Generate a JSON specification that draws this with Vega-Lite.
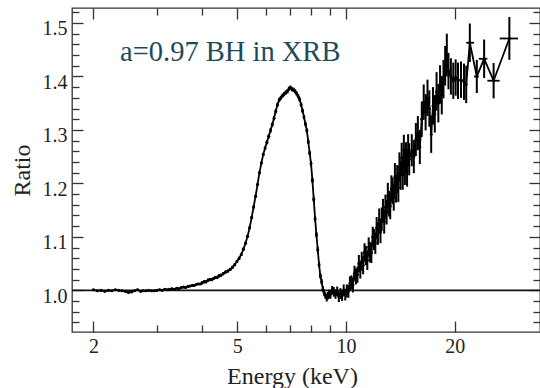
{
  "$schema": "https://vega.github.io/schema/vega-lite/v6.json",
  "width": 468,
  "height": 324,
  "autosize": {"type": "none"},
  "padding": {"left": 72, "right": 0, "top": 8, "bottom": 56},
  "background": "white",
  "config": {
    "view": {"stroke": "#333", "strokeWidth": 1.3},
    "axis": {
      "domain": false, "grid": false, "tickColor": "#333", "tickWidth": 1.3,
      "labelFont": "Liberation Serif", "labelFontSize": 20, "labelColor": "#222",
      "titleFont": "Liberation Serif", "titleFontSize": 24, "titleFontWeight": "normal", "titleColor": "#222",
      "labelFlush": false, "labelOverlap": false
    }
  },
  "datasets": {
    "d": [
      {"E":2.00,"R":1.001,"e":0.002},{"E":2.05,"R":0.999,"e":0.002},{"E":2.10,"R":1.000,"e":0.002},{"E":2.15,"R":0.998,"e":0.002},{"E":2.20,"R":1.000,"e":0.002},{"E":2.25,"R":0.999,"e":0.002},{"E":2.30,"R":1.001,"e":0.002},{"E":2.35,"R":1.000,"e":0.002},{"E":2.40,"R":0.999,"e":0.002},{"E":2.45,"R":0.998,"e":0.002},
      {"E":2.50,"R":0.996,"e":0.002},{"E":2.55,"R":0.997,"e":0.002},{"E":2.60,"R":0.999,"e":0.002},{"E":2.65,"R":1.001,"e":0.002},{"E":2.70,"R":0.998,"e":0.002},{"E":2.75,"R":0.999,"e":0.002},{"E":2.80,"R":0.999,"e":0.002},{"E":2.85,"R":1.000,"e":0.002},{"E":2.90,"R":0.999,"e":0.002},{"E":2.95,"R":0.999,"e":0.002},
      {"E":3.00,"R":1.000,"e":0.002},{"E":3.05,"R":1.001,"e":0.002},{"E":3.10,"R":1.000,"e":0.002},{"E":3.15,"R":1.002,"e":0.002},{"E":3.20,"R":1.001,"e":0.002},{"E":3.25,"R":1.002,"e":0.002},{"E":3.30,"R":1.003,"e":0.002},{"E":3.35,"R":1.002,"e":0.002},{"E":3.40,"R":1.004,"e":0.002},{"E":3.45,"R":1.003,"e":0.002},
      {"E":3.50,"R":1.005,"e":0.002},{"E":3.55,"R":1.006,"e":0.002},{"E":3.60,"R":1.005,"e":0.002},{"E":3.65,"R":1.007,"e":0.002},{"E":3.70,"R":1.008,"e":0.002},{"E":3.75,"R":1.009,"e":0.002},{"E":3.80,"R":1.009,"e":0.002},{"E":3.85,"R":1.011,"e":0.002},{"E":3.90,"R":1.012,"e":0.002},{"E":3.95,"R":1.012,"e":0.002},
      {"E":4.00,"R":1.014,"e":0.003},{"E":4.05,"R":1.016,"e":0.003},{"E":4.10,"R":1.016,"e":0.003},{"E":4.15,"R":1.019,"e":0.003},{"E":4.20,"R":1.020,"e":0.003},{"E":4.25,"R":1.020,"e":0.003},{"E":4.30,"R":1.022,"e":0.003},{"E":4.35,"R":1.024,"e":0.003},{"E":4.40,"R":1.024,"e":0.003},{"E":4.45,"R":1.027,"e":0.003},
      {"E":4.50,"R":1.028,"e":0.003},{"E":4.57,"R":1.031,"e":0.003},{"E":4.64,"R":1.034,"e":0.003},{"E":4.71,"R":1.036,"e":0.003},{"E":4.78,"R":1.039,"e":0.003},{"E":4.85,"R":1.043,"e":0.003},{"E":4.92,"R":1.048,"e":0.003},{"E":4.99,"R":1.054,"e":0.003},{"E":5.06,"R":1.060,"e":0.003},{"E":5.13,"R":1.067,"e":0.003},
      {"E":5.20,"R":1.077,"e":0.003},{"E":5.27,"R":1.088,"e":0.003},{"E":5.34,"R":1.101,"e":0.003},{"E":5.41,"R":1.117,"e":0.003},{"E":5.48,"R":1.136,"e":0.003},{"E":5.55,"R":1.156,"e":0.003},{"E":5.62,"R":1.176,"e":0.003},{"E":5.69,"R":1.198,"e":0.003},{"E":5.76,"R":1.220,"e":0.003},{"E":5.83,"R":1.238,"e":0.003},
      {"E":5.90,"R":1.254,"e":0.003},{"E":5.97,"R":1.266,"e":0.003},{"E":6.04,"R":1.277,"e":0.004},{"E":6.11,"R":1.288,"e":0.004},{"E":6.18,"R":1.299,"e":0.004},{"E":6.25,"R":1.310,"e":0.004},{"E":6.32,"R":1.322,"e":0.004},{"E":6.39,"R":1.335,"e":0.004},{"E":6.46,"R":1.347,"e":0.004},{"E":6.53,"R":1.356,"e":0.004},
      {"E":6.60,"R":1.360,"e":0.004},{"E":6.67,"R":1.364,"e":0.004},{"E":6.74,"R":1.367,"e":0.004},{"E":6.81,"R":1.370,"e":0.004},{"E":6.88,"R":1.372,"e":0.004},{"E":6.95,"R":1.377,"e":0.004},{"E":7.02,"R":1.379,"e":0.004},{"E":7.09,"R":1.376,"e":0.004},{"E":7.16,"R":1.375,"e":0.004},{"E":7.23,"R":1.372,"e":0.004},
      {"E":7.30,"R":1.368,"e":0.004},{"E":7.37,"R":1.363,"e":0.004},{"E":7.44,"R":1.357,"e":0.004},{"E":7.51,"R":1.347,"e":0.004},{"E":7.58,"R":1.336,"e":0.004},{"E":7.65,"R":1.324,"e":0.004},{"E":7.72,"R":1.311,"e":0.004},{"E":7.79,"R":1.299,"e":0.004},{"E":7.86,"R":1.278,"e":0.004},{"E":7.93,"R":1.257,"e":0.004},
      {"E":8.00,"R":1.237,"e":0.005},{"E":8.07,"R":1.206,"e":0.005},{"E":8.14,"R":1.170,"e":0.005},{"E":8.21,"R":1.134,"e":0.005},{"E":8.28,"R":1.104,"e":0.005},{"E":8.35,"R":1.076,"e":0.005},{"E":8.42,"R":1.048,"e":0.005},{"E":8.49,"R":1.027,"e":0.005},{"E":8.56,"R":1.016,"e":0.005},{"E":8.63,"R":1.002,"e":0.006},
      {"E":8.70,"R":0.995,"e":0.006},{"E":8.77,"R":0.990,"e":0.006},{"E":8.84,"R":0.986,"e":0.007},{"E":8.91,"R":0.990,"e":0.007},{"E":8.98,"R":0.993,"e":0.008},
      {"E":9.05,"R":0.992,"e":0.008},{"E":9.15,"R":1.000,"e":0.008},{"E":9.25,"R":0.997,"e":0.009},{"E":9.35,"R":0.993,"e":0.009},{"E":9.45,"R":0.998,"e":0.009},{"E":9.55,"R":0.988,"e":0.010},{"E":9.65,"R":0.994,"e":0.010},{"E":9.75,"R":0.990,"e":0.010},{"E":9.85,"R":1.000,"e":0.011},{"E":9.95,"R":0.992,"e":0.011},
      {"E":10.05,"R":0.999,"e":0.012},{"E":10.15,"R":0.998,"e":0.012},{"E":10.25,"R":1.013,"e":0.013},{"E":10.35,"R":1.015,"e":0.013},{"E":10.45,"R":1.010,"e":0.014},{"E":10.55,"R":1.032,"e":0.014},{"E":10.65,"R":1.026,"e":0.015},{"E":10.75,"R":1.029,"e":0.015},{"E":10.85,"R":1.050,"e":0.016},{"E":10.95,"R":1.038,"e":0.016},
      {"E":11.05,"R":1.055,"e":0.017},{"E":11.15,"R":1.047,"e":0.017},{"E":11.25,"R":1.071,"e":0.017},{"E":11.35,"R":1.065,"e":0.018},{"E":11.45,"R":1.056,"e":0.018},{"E":11.55,"R":1.081,"e":0.018},{"E":11.65,"R":1.071,"e":0.019},{"E":11.75,"R":1.070,"e":0.019},{"E":11.85,"R":1.100,"e":0.019},{"E":11.95,"R":1.095,"e":0.020},
      {"E":12.05,"R":1.088,"e":0.020},{"E":12.15,"R":1.117,"e":0.020},{"E":12.25,"R":1.106,"e":0.021},{"E":12.35,"R":1.132,"e":0.021},{"E":12.45,"R":1.109,"e":0.021},{"E":12.55,"R":1.133,"e":0.022},{"E":12.65,"R":1.149,"e":0.022},{"E":12.75,"R":1.128,"e":0.022},{"E":12.85,"R":1.156,"e":0.023},{"E":12.95,"R":1.146,"e":0.023},
      {"E":13.05,"R":1.177,"e":0.024},{"E":13.15,"R":1.162,"e":0.024},{"E":13.25,"R":1.157,"e":0.024},{"E":13.35,"R":1.190,"e":0.025},{"E":13.45,"R":1.186,"e":0.025},{"E":13.55,"R":1.174,"e":0.025},{"E":13.65,"R":1.212,"e":0.026},{"E":13.75,"R":1.190,"e":0.026},{"E":13.85,"R":1.208,"e":0.026},{"E":13.95,"R":1.192,"e":0.027},
      {"E":14.05,"R":1.231,"e":0.027},{"E":14.15,"R":1.215,"e":0.027},{"E":14.25,"R":1.248,"e":0.028},{"E":14.35,"R":1.216,"e":0.028},{"E":14.45,"R":1.263,"e":0.028},{"E":14.55,"R":1.226,"e":0.029},{"E":14.65,"R":1.248,"e":0.029},{"E":14.75,"R":1.223,"e":0.029},{"E":14.85,"R":1.262,"e":0.030},{"E":14.95,"R":1.245,"e":0.030},
      {"E":15.2,"R":1.262,"e":0.030},{"E":15.4,"R":1.250,"e":0.031},{"E":15.6,"R":1.282,"e":0.031},{"E":15.8,"R":1.294,"e":0.032},{"E":16.0,"R":1.268,"e":0.032},{"E":16.2,"R":1.320,"e":0.033},{"E":16.4,"R":1.352,"e":0.033},{"E":16.6,"R":1.333,"e":0.034},{"E":16.8,"R":1.360,"e":0.034},{"E":17.0,"R":1.340,"e":0.034},
      {"E":17.2,"R":1.292,"e":0.035},{"E":17.4,"R":1.345,"e":0.035},{"E":17.6,"R":1.330,"e":0.035},{"E":17.8,"R":1.372,"e":0.036},{"E":18.0,"R":1.350,"e":0.036},{"E":18.2,"R":1.385,"e":0.036},{"E":18.4,"R":1.365,"e":0.036},{"E":18.6,"R":1.395,"e":0.036},{"E":18.8,"R":1.420,"e":0.037},{"E":19.0,"R":1.440,"e":0.040},
      {"E":19.2,"R":1.410,"e":0.034},{"E":19.5,"R":1.400,"e":0.034},{"E":19.8,"R":1.392,"e":0.034},{"E":20.1,"R":1.398,"e":0.034},{"E":20.4,"R":1.392,"e":0.034},{"E":20.8,"R":1.394,"e":0.034},{"E":21.2,"R":1.390,"e":0.034},{"E":21.5,"R":1.385,"e":0.035},
      {"E":22.0,"R":1.463,"e":0.036,"xlo":21.5,"xhi":22.6},{"E":23.0,"R":1.400,"e":0.031,"xlo":22.6,"xhi":23.3},{"E":24.1,"R":1.433,"e":0.036,"xlo":23.3,"xhi":24.6},{"E":25.6,"R":1.392,"e":0.033,"xlo":24.6,"xhi":26.6},{"E":28.3,"R":1.471,"e":0.040,"xlo":26.6,"xhi":29.9}
    ],
    "one": [{"label": "a=0.97 BH in XRB", "ref": 1}]
  },
  "data": {"name": "d"},
  "resolve": {"axis": {"x": "independent", "y": "independent"}},
  "layer": [
    {
      "mark": {"type": "point", "opacity": 0},
      "encoding": {
        "x": {"field": "E", "type": "quantitative", "scale": {"type": "log", "domain": [1.745, 34.4], "nice": false},
          "axis": {"orient": "bottom", "values": [2, 5, 10, 20], "format": "d", "tickSize": -11, "labelPadding": 15,
            "title": "Energy (keV)", "titleX": 220, "titleY": 51, "titleAlign": "center", "titleBaseline": "alphabetic"}},
        "y": {"field": "R", "type": "quantitative", "scale": {"domain": [0.922, 1.528], "nice": false, "zero": false},
          "axis": {"orient": "left", "values": [1.0, 1.1, 1.2, 1.3, 1.4, 1.5], "format": ".1f", "tickSize": -11, "labelPadding": 16, "labelOffset": 6,
            "title": "Ratio", "titleX": -43, "titleY": 162, "titleAngle": -90, "titleAlign": "center", "titleBaseline": "alphabetic"}}
      }
    },
    {
      "mark": {"type": "point", "opacity": 0},
      "encoding": {
        "x": {"field": "E", "type": "quantitative", "scale": {"type": "log", "domain": [1.745, 34.4], "nice": false},
          "axis": {"orient": "bottom", "values": [3, 4, 6, 7, 8, 9], "tickSize": -7, "labels": false, "title": null}},
        "y": {"field": "R", "type": "quantitative", "scale": {"domain": [0.922, 1.528], "nice": false, "zero": false},
          "axis": {"orient": "left", "values": [0.94, 0.96, 0.98, 1.02, 1.04, 1.06, 1.08, 1.12, 1.14, 1.16, 1.18, 1.22, 1.24, 1.26, 1.28, 1.32, 1.34, 1.36, 1.38, 1.42, 1.44, 1.46, 1.48, 1.52], "tickSize": -7, "labels": false, "title": null}}
      }
    },
    {
      "mark": {"type": "point", "opacity": 0},
      "encoding": {
        "x": {"field": "E", "type": "quantitative", "scale": {"type": "log", "domain": [1.745, 34.4], "nice": false},
          "axis": {"orient": "top", "values": [2, 5, 10, 20], "tickSize": -11, "labels": false, "title": null}},
        "y": {"field": "R", "type": "quantitative", "scale": {"domain": [0.922, 1.528], "nice": false, "zero": false},
          "axis": {"orient": "right", "values": [1.0, 1.1, 1.2, 1.3, 1.4, 1.5], "tickSize": -11, "labels": false, "title": null}}
      }
    },
    {
      "mark": {"type": "point", "opacity": 0},
      "encoding": {
        "x": {"field": "E", "type": "quantitative", "scale": {"type": "log", "domain": [1.745, 34.4], "nice": false},
          "axis": {"orient": "top", "values": [3, 4, 6, 7, 8, 9], "tickSize": -7, "labels": false, "title": null}},
        "y": {"field": "R", "type": "quantitative", "scale": {"domain": [0.922, 1.528], "nice": false, "zero": false},
          "axis": {"orient": "right", "values": [0.94, 0.96, 0.98, 1.02, 1.04, 1.06, 1.08, 1.12, 1.14, 1.16, 1.18, 1.22, 1.24, 1.26, 1.28, 1.32, 1.34, 1.36, 1.38, 1.42, 1.44, 1.46, 1.48, 1.52], "tickSize": -7, "labels": false, "title": null}}
      }
    },
    {
      "data": {"name": "one"},
      "mark": {"type": "rule", "color": "#111", "strokeWidth": 1.8},
      "encoding": {
        "y": {"field": "ref", "type": "quantitative", "scale": {"domain": [0.922, 1.528], "nice": false, "zero": false}, "axis": null}
      }
    },
    {
      "mark": {"type": "errorbar", "color": "#000", "thickness": 2},
      "encoding": {
        "x": {"field": "E", "type": "quantitative", "scale": {"type": "log", "domain": [1.745, 34.4], "nice": false}, "axis": null},
        "y": {"field": "R", "type": "quantitative", "scale": {"domain": [0.922, 1.528], "nice": false, "zero": false}, "axis": null},
        "yError": {"field": "e"}
      }
    },
    {
      "transform": [{"filter": "isValid(datum.xlo)"}],
      "mark": {"type": "rule", "color": "#000", "strokeWidth": 1.8},
      "encoding": {
        "x": {"field": "xlo", "type": "quantitative", "scale": {"type": "log", "domain": [1.745, 34.4], "nice": false}, "axis": null},
        "x2": {"field": "xhi"},
        "y": {"field": "R", "type": "quantitative", "scale": {"domain": [0.922, 1.528], "nice": false, "zero": false}, "axis": null}
      }
    },
    {
      "mark": {"type": "line", "color": "#000", "strokeWidth": 1.8},
      "encoding": {
        "x": {"field": "E", "type": "quantitative", "scale": {"type": "log", "domain": [1.745, 34.4], "nice": false}, "axis": null},
        "y": {"field": "R", "type": "quantitative", "scale": {"domain": [0.922, 1.528], "nice": false, "zero": false}, "axis": null}
      }
    },
    {
      "mark": {"type": "point", "filled": true, "color": "#000", "size": 9, "opacity": 1},
      "encoding": {
        "x": {"field": "E", "type": "quantitative", "scale": {"type": "log", "domain": [1.745, 34.4], "nice": false}, "axis": null},
        "y": {"field": "R", "type": "quantitative", "scale": {"domain": [0.922, 1.528], "nice": false, "zero": false}, "axis": null}
      }
    },
    {
      "data": {"name": "one"},
      "mark": {"type": "text", "font": "Liberation Serif", "fontSize": 28.5, "color": "#1d4b5e", "align": "left", "baseline": "alphabetic"},
      "encoding": {
        "text": {"field": "label"},
        "x": {"datum": 2.37, "type": "quantitative", "scale": {"type": "log", "domain": [1.745, 34.4], "nice": false}, "axis": null},
        "y": {"datum": 1.429, "type": "quantitative", "scale": {"domain": [0.922, 1.528], "nice": false, "zero": false}, "axis": null}
      }
    }
  ]
}
